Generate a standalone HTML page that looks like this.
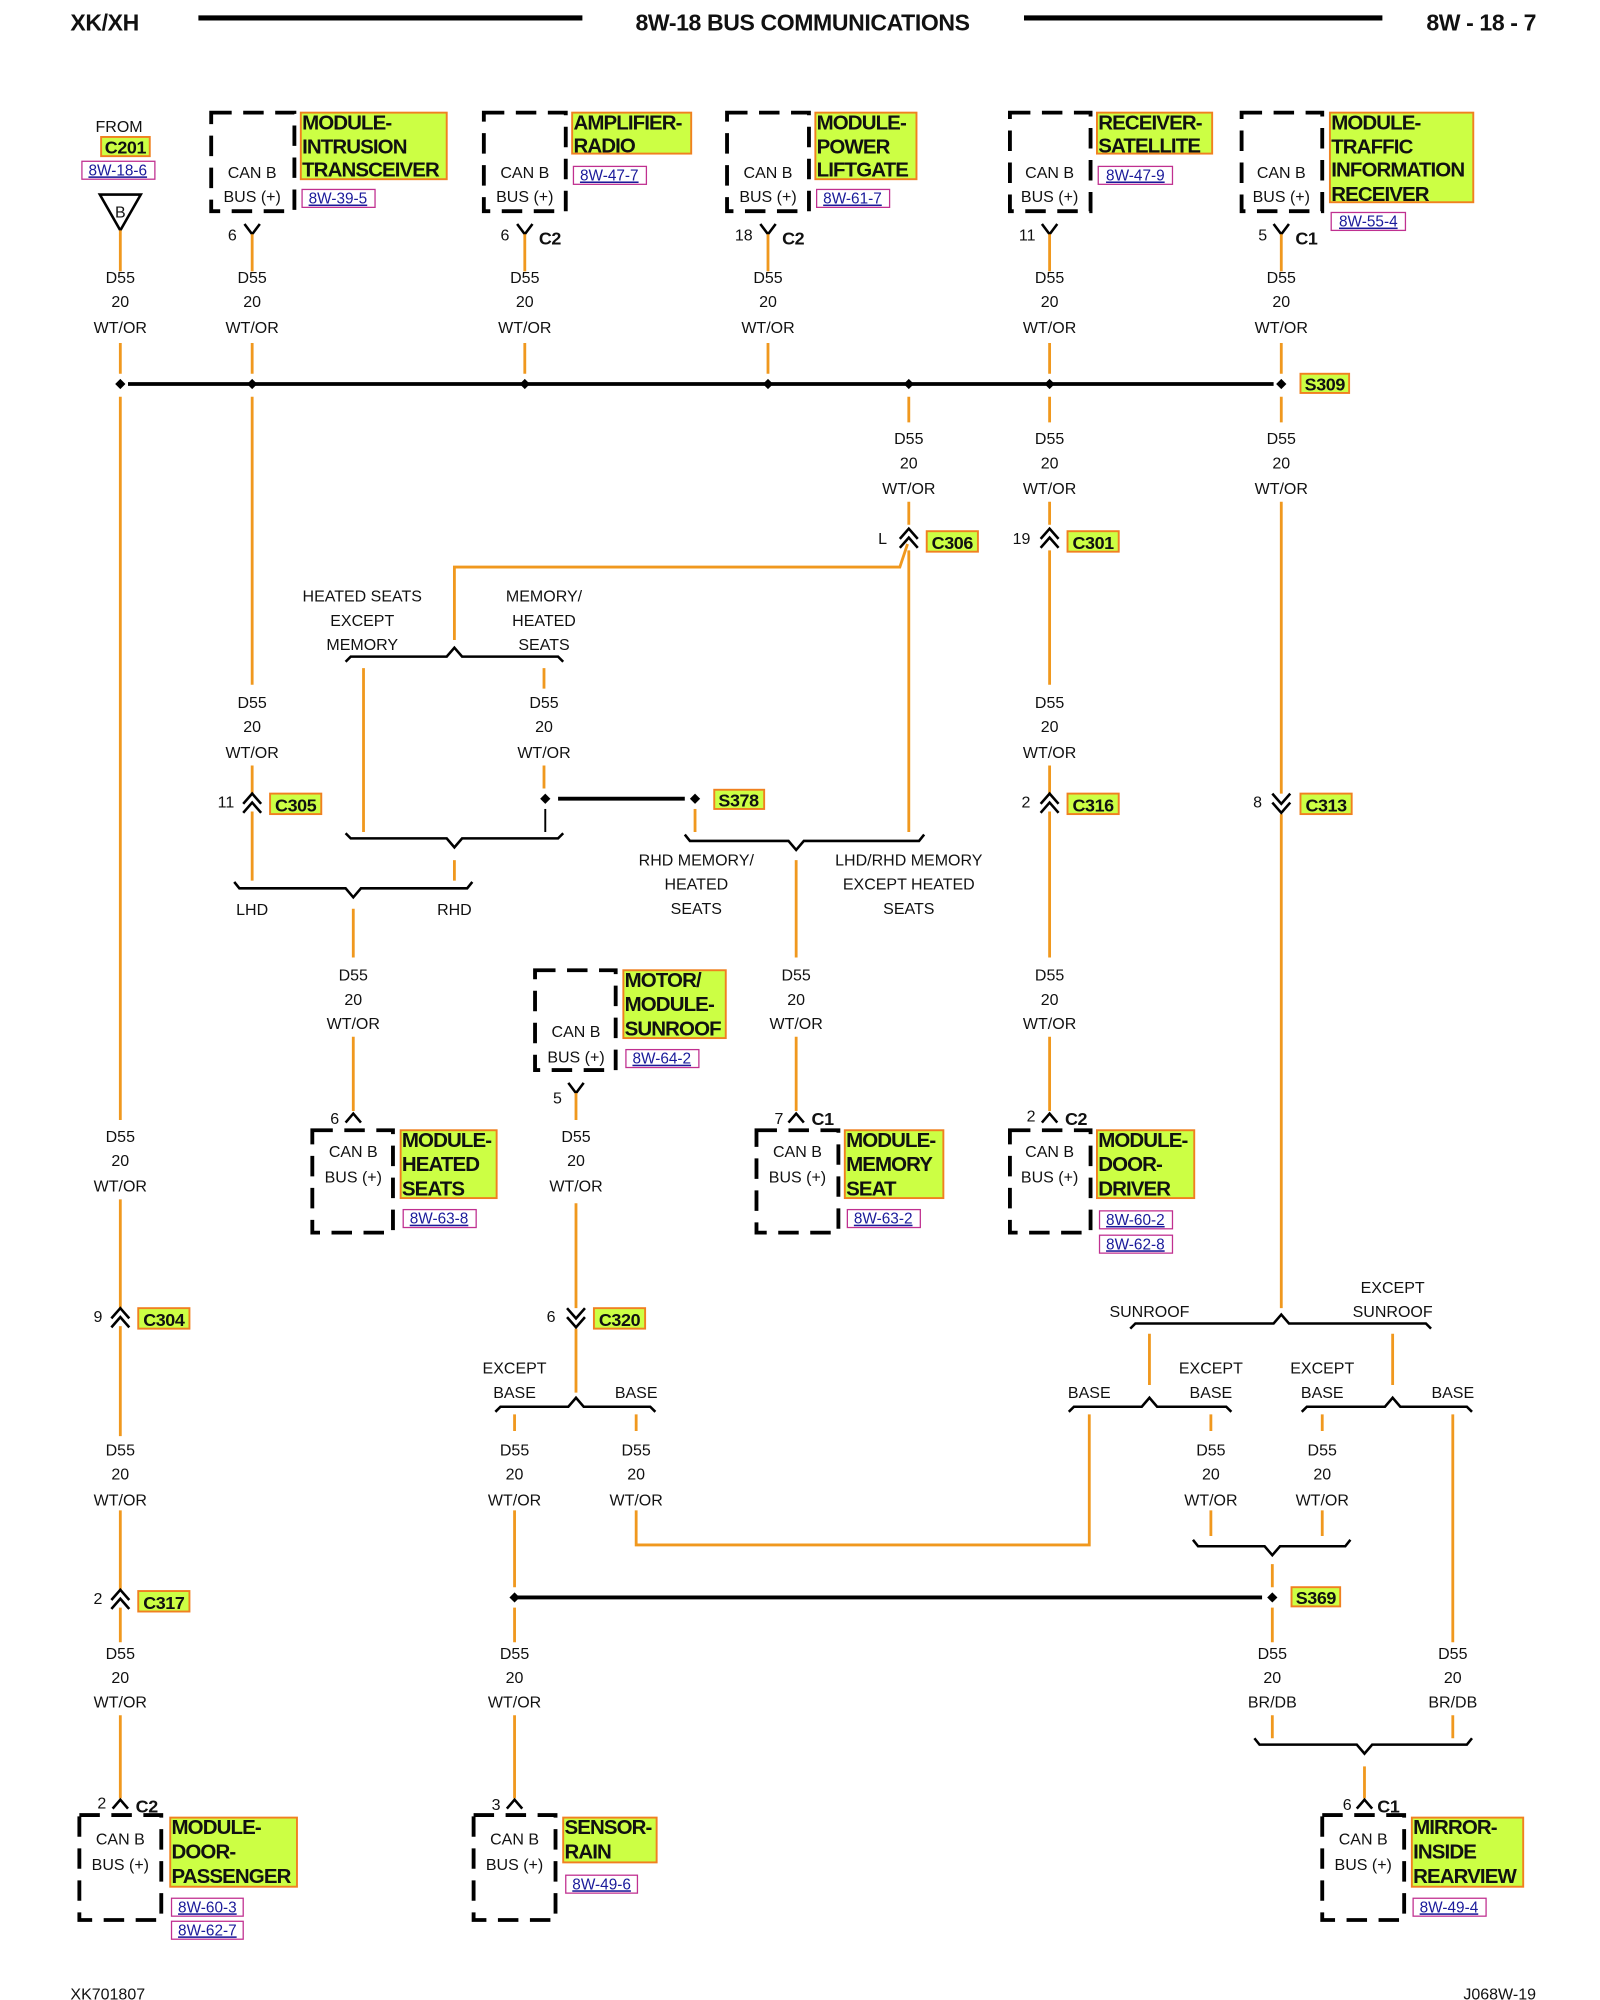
<!DOCTYPE html>
<html><head><meta charset="utf-8"><style>
html,body{margin:0;padding:0;background:#fff;}
svg{display:block;}
text{font-family:"Liberation Sans",sans-serif;fill:#111;}
.t{font-size:12.5px;text-anchor:middle;}
.tl{font-size:12.5px;}
.n{font-family:"Liberation Sans Narrow","Liberation Sans",sans-serif;font-weight:bold;font-size:16px;letter-spacing:-0.7px;}
.h{font-family:"Liberation Sans Narrow","Liberation Sans",sans-serif;font-weight:bold;font-size:18px;letter-spacing:-0.3px;}
.c{font-family:"Liberation Sans Narrow","Liberation Sans",sans-serif;font-weight:bold;font-size:14px;letter-spacing:-0.3px;}
.r{font-size:12px;fill:#1a1a9a;text-decoration:underline;}
.w{stroke:#f0981e;stroke-width:2.2;fill:none;}
.k{stroke:#000;stroke-width:2;fill:none;}
.bus{stroke:#000;stroke-width:3;fill:none;}
.box{stroke:#000;stroke-width:3;fill:none;stroke-dasharray:16 9;}
.lb{fill:#ccff44;stroke:#f08020;stroke-width:1.5;}
.rb{fill:none;stroke:#c03090;stroke-width:1;}
</style></head><body>
<svg width="1600" height="2000" viewBox="0 0 1250 1562.5" xmlns="http://www.w3.org/2000/svg">
<!-- header -->
<text x="55" y="24" class="h">XK/XH</text>
<line x1="155" y1="14" x2="455" y2="14" stroke="#000" stroke-width="4"/>
<text x="627" y="24" class="h" text-anchor="middle">8W-18 BUS COMMUNICATIONS</text>
<line x1="800" y1="14" x2="1080" y2="14" stroke="#000" stroke-width="4"/>
<text x="1200" y="24" class="h" text-anchor="end">8W - 18 - 7</text>

<!-- FROM C201 -->
<text x="93" y="103" class="t">FROM</text>
<rect x="79" y="107" width="38" height="15" class="lb"/>
<text x="98" y="120" class="c" text-anchor="middle">C201</text>
<rect x="64" y="126" width="57" height="14" class="rb"/>
<text x="92" y="137" class="r" text-anchor="middle">8W-18-6</text>
<polygon points="78,152 110,152 94,180" fill="none" stroke="#000" stroke-width="2"/>
<text x="94" y="170" class="t" font-size="12">B</text>

<!-- top modules -->
<g>
<rect x="165" y="88" width="65" height="77" class="box"/>
<text x="197" y="139" class="t">CAN B</text><text x="197" y="158" class="t">BUS (+)</text>
<rect x="235" y="88" width="114" height="52" class="lb"/>
<text x="236" y="101" class="n">MODULE-</text><text x="236" y="120" class="n">INTRUSION</text><text x="236" y="138" class="n">TRANSCEIVER</text>
<rect x="236" y="148" width="57" height="14" class="rb"/><text x="264" y="159" class="r" text-anchor="middle">8W-39-5</text>
<polyline points="191,175 197,183 203,175" class="k"/><text x="185" y="188" class="tl" text-anchor="end">6</text>

<rect x="378" y="88" width="64" height="77" class="box"/>
<text x="410" y="139" class="t">CAN B</text><text x="410" y="158" class="t">BUS (+)</text>
<rect x="447" y="88" width="93" height="32" class="lb"/>
<text x="448" y="101" class="n">AMPLIFIER-</text><text x="448" y="119" class="n">RADIO</text>
<rect x="448" y="130" width="57" height="14" class="rb"/><text x="476" y="141" class="r" text-anchor="middle">8W-47-7</text>
<polyline points="404,175 410,183 416,175" class="k"/><text x="398" y="188" class="tl" text-anchor="end">6</text><text x="421" y="191" class="c">C2</text>

<rect x="568" y="88" width="64" height="77" class="box"/>
<text x="600" y="139" class="t">CAN B</text><text x="600" y="158" class="t">BUS (+)</text>
<rect x="637" y="88" width="79" height="52" class="lb"/>
<text x="638" y="101" class="n">MODULE-</text><text x="638" y="120" class="n">POWER</text><text x="638" y="138" class="n">LIFTGATE</text>
<rect x="638" y="148" width="57" height="14" class="rb"/><text x="666" y="159" class="r" text-anchor="middle">8W-61-7</text>
<polyline points="594,175 600,183 606,175" class="k"/><text x="588" y="188" class="tl" text-anchor="end">18</text><text x="611" y="191" class="c">C2</text>

<rect x="789" y="88" width="63" height="77" class="box"/>
<text x="820" y="139" class="t">CAN B</text><text x="820" y="158" class="t">BUS (+)</text>
<rect x="857" y="88" width="90" height="32" class="lb"/>
<text x="858" y="101" class="n">RECEIVER-</text><text x="858" y="119" class="n">SATELLITE</text>
<rect x="858" y="130" width="58" height="14" class="rb"/><text x="887" y="141" class="r" text-anchor="middle">8W-47-9</text>
<polyline points="814,175 820,183 826,175" class="k"/><text x="809" y="188" class="tl" text-anchor="end">11</text>

<rect x="970" y="88" width="63" height="77" class="box"/>
<text x="1001" y="139" class="t">CAN B</text><text x="1001" y="158" class="t">BUS (+)</text>
<rect x="1039" y="88" width="112" height="70" class="lb"/>
<text x="1040" y="101" class="n">MODULE-</text><text x="1040" y="120" class="n">TRAFFIC</text><text x="1040" y="138" class="n">INFORMATION</text><text x="1040" y="157" class="n">RECEIVER</text>
<rect x="1040" y="166" width="58" height="14" class="rb"/><text x="1069" y="177" class="r" text-anchor="middle">8W-55-4</text>
<polyline points="995,175 1001,183 1007,175" class="k"/><text x="990" y="188" class="tl" text-anchor="end">5</text><text x="1012" y="191" class="c">C1</text>
</g>

<!-- top drops -->
<g class="w">
<path d="M94 180V212M94 268V292"/>
<path d="M197 183V212M197 268V292"/>
<path d="M410 183V212M410 268V292"/>
<path d="M600 183V212M600 268V292"/>
<path d="M820 183V212M820 268V292"/>
<path d="M1001 183V212M1001 268V292"/>
</g>
<g>
<text x="94" y="221" class="t">D55</text><text x="94" y="240" class="t">20</text><text x="94" y="260" class="t">WT/OR</text>
<text x="197" y="221" class="t">D55</text><text x="197" y="240" class="t">20</text><text x="197" y="260" class="t">WT/OR</text>
<text x="410" y="221" class="t">D55</text><text x="410" y="240" class="t">20</text><text x="410" y="260" class="t">WT/OR</text>
<text x="600" y="221" class="t">D55</text><text x="600" y="240" class="t">20</text><text x="600" y="260" class="t">WT/OR</text>
<text x="820" y="221" class="t">D55</text><text x="820" y="240" class="t">20</text><text x="820" y="260" class="t">WT/OR</text>
<text x="1001" y="221" class="t">D55</text><text x="1001" y="240" class="t">20</text><text x="1001" y="260" class="t">WT/OR</text>
</g>

<!-- bus -->
<line x1="100" y1="300" x2="995" y2="300" class="bus"/>
<g fill="#000">
<polygon points="94,296 98,300 94,304 90,300"/><polygon points="197,296 201,300 197,304 193,300"/>
<polygon points="410,296 414,300 410,304 406,300"/><polygon points="600,296 604,300 600,304 596,300"/>
<polygon points="710,296 714,300 710,304 706,300"/><polygon points="820,296 824,300 820,304 816,300"/>
<polygon points="1001,296 1005,300 1001,304 997,300"/>
</g>
<rect x="1016" y="292" width="38" height="15" class="lb"/><text x="1035" y="305" class="c" text-anchor="middle">S309</text>

<!-- x94 column -->
<g class="w"><path d="M94 310V875M94 937V1022M94 1036V1122M94 1180V1243M94 1256V1283M94 1340V1405"/></g>
<text x="94" y="892" class="t">D55</text><text x="94" y="911" class="t">20</text><text x="94" y="931" class="t">WT/OR</text>
<polyline points="87,1030 94,1022 101,1030" class="k"/><polyline points="87,1037 94,1029 101,1037" class="k"/>
<text x="80" y="1033" class="tl" text-anchor="end">9</text>
<rect x="108" y="1022" width="40" height="16" class="lb"/><text x="128" y="1036" class="c" text-anchor="middle">C304</text>
<text x="94" y="1137" class="t">D55</text><text x="94" y="1156" class="t">20</text><text x="94" y="1176" class="t">WT/OR</text>
<polyline points="87,1250 94,1242 101,1250" class="k"/><polyline points="87,1257 94,1249 101,1257" class="k"/>
<text x="80" y="1253" class="tl" text-anchor="end">2</text>
<rect x="108" y="1243" width="40" height="16" class="lb"/><text x="128" y="1257" class="c" text-anchor="middle">C317</text>
<text x="94" y="1296" class="t">D55</text><text x="94" y="1315" class="t">20</text><text x="94" y="1334" class="t">WT/OR</text>
<polyline points="88,1413 94,1406 100,1413" class="k"/><text x="83" y="1413" class="tl" text-anchor="end">2</text><text x="106" y="1416" class="c">C2</text>
<rect x="62" y="1418" width="64" height="82" class="box"/>
<text x="94" y="1441" class="t">CAN B</text><text x="94" y="1461" class="t">BUS (+)</text>
<rect x="133" y="1420" width="99" height="54" class="lb"/>
<text x="134" y="1433" class="n">MODULE-</text><text x="134" y="1452" class="n">DOOR-</text><text x="134" y="1471" class="n">PASSENGER</text>
<rect x="134" y="1483" width="56" height="14" class="rb"/><text x="162" y="1494" class="r" text-anchor="middle">8W-60-3</text>
<rect x="134" y="1501" width="56" height="14" class="rb"/><text x="162" y="1512" class="r" text-anchor="middle">8W-62-7</text>

<!-- x197 column -->
<g class="w"><path d="M197 310V535M197 598V620M197 634V688"/></g>
<text x="197" y="553" class="t">D55</text><text x="197" y="572" class="t">20</text><text x="197" y="592" class="t">WT/OR</text>
<polyline points="190,628 197,620 204,628" class="k"/><polyline points="190,635 197,627 204,635" class="k"/>
<text x="183" y="631" class="tl" text-anchor="end">11</text>
<rect x="211" y="620" width="40" height="16" class="lb"/><text x="231" y="634" class="c" text-anchor="middle">C305</text>

<!-- heated seat braces -->
<path d="M270 517 L274 513 L349 513 L355 506 L361 513 L436 513 L440 517" class="k"/>
<text x="283" y="470" class="t">HEATED SEATS</text><text x="283" y="489" class="t">EXCEPT</text><text x="283" y="508" class="t">MEMORY</text>
<text x="425" y="470" class="t">MEMORY/</text><text x="425" y="489" class="t">HEATED</text><text x="425" y="508" class="t">SEATS</text>
<path d="M355 500V443H703L709 425" class="w"/>
<path d="M284 522V650" class="w"/>
<path d="M425 522V538M425 598V616" class="w"/>
<text x="425" y="553" class="t">D55</text><text x="425" y="572" class="t">20</text><text x="425" y="592" class="t">WT/OR</text>
<polygon points="426,620 430,624 426,628 422,624" fill="#000"/>
<line x1="426" y1="632" x2="426" y2="650" stroke="#000" stroke-width="1.5"/>
<line x1="436" y1="624" x2="535" y2="624" class="bus"/>
<polygon points="543,620 547,624 543,628 539,624" fill="#000"/>
<rect x="558" y="617" width="39" height="15" class="lb"/><text x="577" y="630" class="c" text-anchor="middle">S378</text>
<path d="M543 632V650" class="w"/>
<path d="M270 651 L274 655 L349 655 L355 662 L361 655 L436 655 L440 651" class="k"/>
<path d="M355 672V688" class="w"/>
<path d="M183 689 L187 694 L270 694 L276 701 L282 694 L365 694 L369 689" class="k"/>
<text x="197" y="715" class="t">LHD</text><text x="355" y="715" class="t">RHD</text>
<path d="M276 710V748M276 810V868" class="w"/>
<text x="276" y="766" class="t">D55</text><text x="276" y="785" class="t">20</text><text x="276" y="804" class="t">WT/OR</text>
<polyline points="270,877 276,870 282,877" class="k"/><text x="265" y="878" class="tl" text-anchor="end">6</text>
<rect x="244" y="883" width="63" height="80" class="box"/>
<text x="276" y="904" class="t">CAN B</text><text x="276" y="924" class="t">BUS (+)</text>
<rect x="313" y="883" width="75" height="53" class="lb"/>
<text x="314" y="896" class="n">MODULE-</text><text x="314" y="915" class="n">HEATED</text><text x="314" y="934" class="n">SEATS</text>
<rect x="315" y="945" width="57" height="14" class="rb"/><text x="343" y="956" class="r" text-anchor="middle">8W-63-8</text>

<!-- x710 -->
<g class="w"><path d="M710 310V330M710 392V410M710 430V650"/></g>
<text x="710" y="347" class="t">D55</text><text x="710" y="366" class="t">20</text><text x="710" y="386" class="t">WT/OR</text>
<polyline points="703,421 710,413 717,421" class="k"/><polyline points="703,428 710,420 717,428" class="k"/>
<text x="693" y="425" class="tl" text-anchor="end">L</text>
<rect x="724" y="415" width="40" height="16" class="lb"/><text x="744" y="429" class="c" text-anchor="middle">C306</text>

<path d="M535 652 L539 657 L616 657 L622 664 L628 657 L718 657 L722 652" class="k"/>
<text x="544" y="676" class="t">RHD MEMORY/</text><text x="544" y="695" class="t">HEATED</text><text x="544" y="714" class="t">SEATS</text>
<text x="710" y="676" class="t">LHD/RHD MEMORY</text><text x="710" y="695" class="t">EXCEPT HEATED</text><text x="710" y="714" class="t">SEATS</text>
<path d="M622 672V748M622 810V868" class="w"/>
<text x="622" y="766" class="t">D55</text><text x="622" y="785" class="t">20</text><text x="622" y="804" class="t">WT/OR</text>
<polyline points="616,877 622,870 628,877" class="k"/><text x="612" y="878" class="tl" text-anchor="end">7</text><text x="634" y="879" class="c">C1</text>
<rect x="591" y="883" width="64" height="80" class="box"/>
<text x="623" y="904" class="t">CAN B</text><text x="623" y="924" class="t">BUS (+)</text>
<rect x="660" y="883" width="77" height="53" class="lb"/>
<text x="661" y="896" class="n">MODULE-</text><text x="661" y="915" class="n">MEMORY</text><text x="661" y="934" class="n">SEAT</text>
<rect x="662" y="945" width="57" height="14" class="rb"/><text x="690" y="956" class="r" text-anchor="middle">8W-63-2</text>

<!-- x820 -->
<g class="w"><path d="M820 310V330M820 392V410M820 430V535M820 598V620M820 634V748M820 810V868"/></g>
<text x="820" y="347" class="t">D55</text><text x="820" y="366" class="t">20</text><text x="820" y="386" class="t">WT/OR</text>
<polyline points="813,421 820,413 827,421" class="k"/><polyline points="813,428 820,420 827,428" class="k"/>
<text x="805" y="425" class="tl" text-anchor="end">19</text>
<rect x="834" y="415" width="40" height="16" class="lb"/><text x="854" y="429" class="c" text-anchor="middle">C301</text>
<text x="820" y="553" class="t">D55</text><text x="820" y="572" class="t">20</text><text x="820" y="592" class="t">WT/OR</text>
<polyline points="813,628 820,620 827,628" class="k"/><polyline points="813,635 820,627 827,635" class="k"/>
<text x="805" y="631" class="tl" text-anchor="end">2</text>
<rect x="834" y="620" width="40" height="16" class="lb"/><text x="854" y="634" class="c" text-anchor="middle">C316</text>
<text x="820" y="766" class="t">D55</text><text x="820" y="785" class="t">20</text><text x="820" y="804" class="t">WT/OR</text>
<polyline points="814,877 820,870 826,877" class="k"/><text x="809" y="876" class="tl" text-anchor="end">2</text><text x="832" y="879" class="c">C2</text>
<rect x="789" y="883" width="63" height="80" class="box"/>
<text x="820" y="904" class="t">CAN B</text><text x="820" y="924" class="t">BUS (+)</text>
<rect x="857" y="883" width="76" height="53" class="lb"/>
<text x="858" y="896" class="n">MODULE-</text><text x="858" y="915" class="n">DOOR-</text><text x="858" y="934" class="n">DRIVER</text>
<rect x="859" y="946" width="57" height="14" class="rb"/><text x="887" y="957" class="r" text-anchor="middle">8W-60-2</text>
<rect x="859" y="965" width="57" height="14" class="rb"/><text x="887" y="976" class="r" text-anchor="middle">8W-62-8</text>

<!-- x1001 -->
<g class="w"><path d="M1001 310V330M1001 392V620M1001 636V1022"/></g>
<text x="1001" y="347" class="t">D55</text><text x="1001" y="366" class="t">20</text><text x="1001" y="386" class="t">WT/OR</text>
<polyline points="994,620 1001,628 1008,620" class="k"/><polyline points="994,627 1001,635 1008,627" class="k"/>
<text x="986" y="631" class="tl" text-anchor="end">8</text>
<rect x="1016" y="620" width="40" height="16" class="lb"/><text x="1036" y="634" class="c" text-anchor="middle">C313</text>

<path d="M883 1038 L887 1034 L995 1034 L1001 1027 L1007 1034 L1114 1034 L1118 1038" class="k"/>
<text x="898" y="1029" class="t">SUNROOF</text>
<text x="1088" y="1010" class="t">EXCEPT</text><text x="1088" y="1029" class="t">SUNROOF</text>
<path d="M898 1042V1082M1088 1042V1082" class="w"/>
<path d="M835 1103 L839 1099 L892 1099 L898 1092 L904 1099 L958 1099 L962 1103" class="k"/>
<path d="M1017 1103 L1021 1099 L1082 1099 L1088 1092 L1094 1099 L1146 1099 L1150 1103" class="k"/>
<text x="851" y="1092" class="t">BASE</text>
<text x="946" y="1073" class="t">EXCEPT</text><text x="946" y="1092" class="t">BASE</text>
<text x="1033" y="1073" class="t">EXCEPT</text><text x="1033" y="1092" class="t">BASE</text>
<text x="1135" y="1092" class="t">BASE</text>
<path d="M851 1105V1207H497V1180M497 1105V1118" class="w"/>
<path d="M946 1105V1118M946 1180V1200M1033 1105V1118M1033 1180V1200" class="w"/>
<text x="946" y="1137" class="t">D55</text><text x="946" y="1156" class="t">20</text><text x="946" y="1176" class="t">WT/OR</text>
<text x="1033" y="1137" class="t">D55</text><text x="1033" y="1156" class="t">20</text><text x="1033" y="1176" class="t">WT/OR</text>
<path d="M932 1203 L936 1208 L988 1208 L994 1215 L1000 1208 L1051 1208 L1055 1203" class="k"/>
<path d="M994 1222V1240M994 1256V1283M994 1340V1358" class="w"/>
<line x1="402" y1="1248" x2="986" y2="1248" class="bus"/>
<polygon points="994,1244 998,1248 994,1252 990,1248" fill="#000"/>
<polygon points="402,1244 406,1248 402,1252 398,1248" fill="#000"/>
<rect x="1009" y="1240" width="38" height="15" class="lb"/><text x="1028" y="1253" class="c" text-anchor="middle">S369</text>
<text x="994" y="1296" class="t">D55</text><text x="994" y="1315" class="t">20</text><text x="994" y="1334" class="t">BR/DB</text>
<path d="M1135 1105V1283M1135 1340V1358" class="w"/>
<text x="1135" y="1296" class="t">D55</text><text x="1135" y="1315" class="t">20</text><text x="1135" y="1334" class="t">BR/DB</text>
<path d="M980 1358 L984 1363 L1060 1363 L1066 1370 L1072 1363 L1146 1363 L1150 1358" class="k"/>
<path d="M1066 1380V1405" class="w"/>
<polyline points="1060,1413 1066,1406 1072,1413" class="k"/><text x="1056" y="1414" class="tl" text-anchor="end">6</text><text x="1076" y="1416" class="c">C1</text>
<rect x="1033" y="1418" width="64" height="82" class="box"/>
<text x="1065" y="1441" class="t">CAN B</text><text x="1065" y="1461" class="t">BUS (+)</text>
<rect x="1103" y="1420" width="87" height="54" class="lb"/>
<text x="1104" y="1433" class="n">MIRROR-</text><text x="1104" y="1452" class="n">INSIDE</text><text x="1104" y="1471" class="n">REARVIEW</text>
<rect x="1104" y="1483" width="57" height="14" class="rb"/><text x="1132" y="1494" class="r" text-anchor="middle">8W-49-4</text>

<!-- sunroof / x450 -->
<rect x="418" y="758" width="63" height="78" class="box"/>
<text x="450" y="810" class="t">CAN B</text><text x="450" y="830" class="t">BUS (+)</text>
<rect x="487" y="758" width="80" height="53" class="lb"/>
<text x="488" y="771" class="n">MOTOR/</text><text x="488" y="790" class="n">MODULE-</text><text x="488" y="809" class="n">SUNROOF</text>
<rect x="489" y="820" width="57" height="14" class="rb"/><text x="517" y="831" class="r" text-anchor="middle">8W-64-2</text>
<polyline points="444,846 450,854 456,846" class="k"/><text x="439" y="862" class="tl" text-anchor="end">5</text>
<path d="M450 854V875M450 940V1022M450 1038V1088" class="w"/>
<text x="450" y="892" class="t">D55</text><text x="450" y="911" class="t">20</text><text x="450" y="931" class="t">WT/OR</text>
<polyline points="443,1022 450,1030 457,1022" class="k"/><polyline points="443,1029 450,1037 457,1029" class="k"/>
<text x="434" y="1033" class="tl" text-anchor="end">6</text>
<rect x="464" y="1022" width="40" height="16" class="lb"/><text x="484" y="1036" class="c" text-anchor="middle">C320</text>
<path d="M387 1103 L391 1099 L444 1099 L450 1092 L456 1099 L508 1099 L512 1103" class="k"/>
<text x="402" y="1073" class="t">EXCEPT</text><text x="402" y="1092" class="t">BASE</text><text x="497" y="1092" class="t">BASE</text>
<path d="M402 1105V1118M402 1180V1240M402 1256V1283M402 1340V1405" class="w"/>
<text x="402" y="1137" class="t">D55</text><text x="402" y="1156" class="t">20</text><text x="402" y="1176" class="t">WT/OR</text>
<text x="497" y="1137" class="t">D55</text><text x="497" y="1156" class="t">20</text><text x="497" y="1176" class="t">WT/OR</text>
<text x="402" y="1296" class="t">D55</text><text x="402" y="1315" class="t">20</text><text x="402" y="1334" class="t">WT/OR</text>
<polyline points="396,1413 402,1406 408,1413" class="k"/><text x="391" y="1414" class="tl" text-anchor="end">3</text>
<rect x="370" y="1418" width="64" height="82" class="box"/>
<text x="402" y="1441" class="t">CAN B</text><text x="402" y="1461" class="t">BUS (+)</text>
<rect x="440" y="1420" width="73" height="35" class="lb"/>
<text x="441" y="1433" class="n">SENSOR-</text><text x="441" y="1452" class="n">RAIN</text>
<rect x="442" y="1465" width="56" height="14" class="rb"/><text x="470" y="1476" class="r" text-anchor="middle">8W-49-6</text>

<!-- footer -->
<text x="55" y="1562" class="tl" font-size="12">XK701807</text>
<text x="1200" y="1562" class="tl" font-size="12" text-anchor="end">J068W-19</text>
</svg>
</body></html>
